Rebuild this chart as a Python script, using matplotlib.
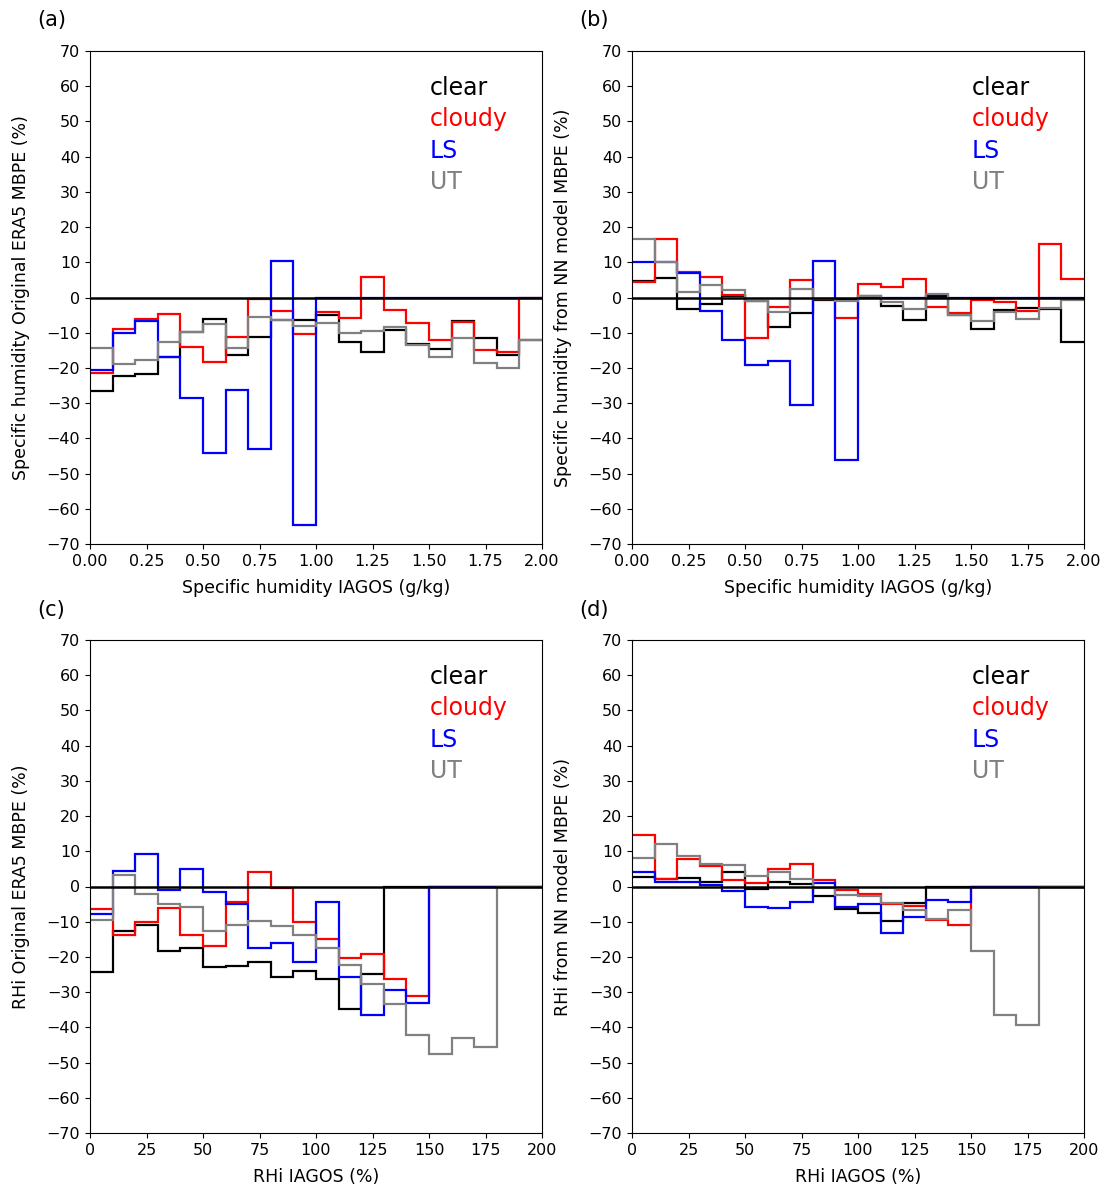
import matplotlib
matplotlib.use("Agg")
import matplotlib.pyplot as plt
import numpy as np

# bin edges
q_edges = np.linspace(0, 2.0, 21)   # specific humidity (g/kg)
rh_edges = np.linspace(0, 200, 21)  # RHi (%)

# (a) specific humidity, original ERA5
a_clear = [-26.6, -22.2, -21.7, -17.0, -9.7, -6.2, -16.3, -11.3, -6.4, -6.5,
           -5.0, -12.5, -15.4, -9.2, -13.3, -14.7, -6.6, -11.6, -16.3, -12.2]
a_cloudy = [-21.3, -9.0, -6.2, -4.7, -14.1, -18.4, -11.3, -0.5, -3.8, -10.5,
            -4.0, -5.9, 5.7, -3.5, -7.1, -12.1, -7.0, -14.9, -15.6, 0.0]
a_ls = [-20.6, -10.0, -6.8, -17.0, -28.4, -44.3, -26.3, -43.1, 10.3, -64.6,
        0, 0, 0, 0, 0, 0, 0, 0, 0, 0]
a_ut = [-14.2, -18.9, -17.8, -12.5, -9.7, -7.6, -14.4, -5.4, -6.4, -8.0,
        -7.1, -10.2, -9.4, -8.5, -13.5, -17.0, -11.6, -18.7, -19.9, -12.2]

# (b) specific humidity, NN model
b_clear = [4.7, 5.4, -3.3, -1.9, 0.5, -1.0, -8.5, -4.4, -0.8, -0.5,
           0.3, -2.4, -6.4, 0.3, -4.9, -9.0, -3.5, -3.0, -3.2, -12.5]
b_cloudy = [4.4, 16.7, 7.1, 5.7, 0.8, -11.4, -2.6, 5.0, -0.5, -5.9,
            3.8, 2.9, 5.3, -2.6, -4.3, -0.7, -1.3, -3.7, 15.3, 5.2]
b_ls = [10.1, 10.0, 7.0, -3.8, -12.0, -19.1, -17.9, -30.5, 10.4, -46.2,
        0, 0, 0, 0, 0, 0, 0, 0, 0, 0]
b_ut = [16.7, 10.0, 1.6, 3.5, 2.1, -0.9, -4.1, 2.5, -0.3, -1.0,
        0.5, -1.4, -3.3, 0.9, -4.9, -6.8, -4.0, -6.2, -3.0, -0.7]

# (c) RHi, original ERA5
c_clear = [-24.2, -12.5, -10.8, -18.3, -17.6, -23.0, -22.6, -21.4, -25.7, -24.0,
           -26.2, -34.8, -24.8, 0, 0, 0, 0, 0, 0, 0]
c_cloudy = [-6.5, -13.9, -10.1, -6.0, -13.9, -17.0, -4.4, 4.0, -0.4, -10.0,
            -14.9, -20.3, -19.3, -26.4, -31.0, 0, 0, 0, 0, 0]
c_ls = [-7.9, 4.3, 9.1, -0.9, 5.0, -1.6, -5.1, -17.4, -16.0, -21.4,
        -4.5, -25.8, -36.6, -29.5, -33.1, 0, 0, 0, 0, 0]
c_ut = [-9.4, 3.4, -2.1, -5.1, -5.7, -12.5, -10.8, -9.8, -11.2, -13.9,
        -17.4, -22.4, -27.8, -33.3, -42.1, -47.5, -43.0, -45.5, 0, 0]

# (d) RHi, NN model
d_clear = [2.8, 2.0, 2.4, 1.2, 4.0, -0.8, 1.4, 0.8, -2.8, -6.5,
           -7.6, -9.9, -4.7, 0, 0, 0, 0, 0, 0, 0]
d_cloudy = [14.5, 2.1, 7.8, 5.7, 1.9, 0.9, 4.9, 6.4, 1.9, -0.9,
            -2.1, -4.9, -5.4, -9.5, -10.8, 0, 0, 0, 0, 0]
d_ls = [4.0, 1.4, 1.2, 0.5, -1.4, -5.7, -6.0, -4.5, 1.1, -5.7,
        -5.1, -13.3, -8.7, -3.8, -4.3, 0, 0, 0, 0, 0]
d_ut = [8.2, 12.1, 8.7, 6.4, 6.2, 3.0, 4.0, 2.1, -0.5, -2.4,
        -2.8, -4.7, -6.6, -9.2, -6.6, -18.4, -36.5, -39.3, 0, 0]

names = ['clear', 'cloudy', 'LS', 'UT']
colors = ['black', 'red', 'blue', 'grey']

fig = plt.figure(figsize=(11.10, 11.89), dpi=100)
W, H = 1110, 1189


def make_ax(left, top, right, bottom):
    return fig.add_axes([left / W, 1 - bottom / H, (right - left) / W, (bottom - top) / H])


panels = [
    (make_ax(90, 51, 542, 544), q_edges, [a_clear, a_cloudy, a_ls, a_ut],
     'Specific humidity IAGOS (g/kg)', 'Specific humidity Original ERA5 MBPE (%)', '(a)', (37, 20)),
    (make_ax(632, 51, 1084, 544), q_edges, [b_clear, b_cloudy, b_ls, b_ut],
     'Specific humidity IAGOS (g/kg)', 'Specific humidity from NN model MBPE (%)', '(b)', (579, 20)),
    (make_ax(90, 640, 542, 1133), rh_edges, [c_clear, c_cloudy, c_ls, c_ut],
     'RHi IAGOS (%)', 'RHi Original ERA5 MBPE (%)', '(c)', (37, 610)),
    (make_ax(632, 640, 1084, 1133), rh_edges, [d_clear, d_cloudy, d_ls, d_ut],
     'RHi IAGOS (%)', 'RHi from NN model MBPE (%)', '(d)', (579, 610)),
]

for ax, edges, series, xlab, ylab, tag, (tx, ty) in panels:
    for vals, c in zip(series, colors):
        ax.stairs(vals, edges, baseline=None, color=c, lw=1.6)
    ax.axhline(0, color='black', lw=1.8, zorder=3)
    ax.set_xlim(edges[0], edges[-1])
    ax.set_ylim(-70, 70)
    ax.set_yticks(np.arange(-70, 71, 10))
    if edges[-1] == 2.0:
        ax.set_xticks(np.arange(0, 2.01, 0.25))
        ax.xaxis.set_major_formatter(matplotlib.ticker.FormatStrFormatter('%.2f'))
    else:
        ax.set_xticks(np.arange(0, 201, 25))
    ax.tick_params(labelsize=11.5)
    ax.set_xlabel(xlab, fontsize=12.5, labelpad=7.5)
    ax.set_ylabel(ylab, fontsize=12.5, labelpad=12)
    for i, (n, c) in enumerate(zip(names, colors)):
        ax.text(0.752, 0.925 - i * 0.0635, n, color=c, fontsize=17,
                transform=ax.transAxes, va='center', ha='left')
    fig.text(tx / W, 1 - ty / H, tag, fontsize=15, va='center', ha='left')

fig.savefig('out.png', dpi=100)
